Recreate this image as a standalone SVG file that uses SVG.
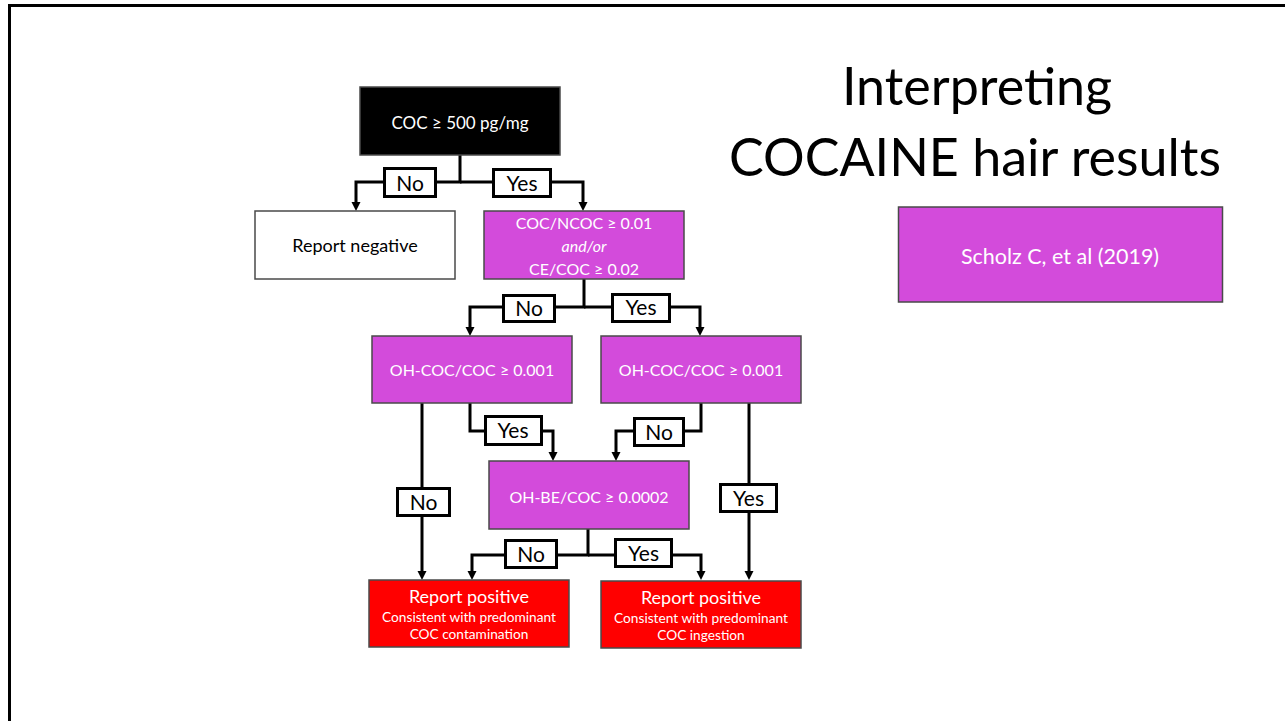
<svg xmlns="http://www.w3.org/2000/svg" width="1285" height="721" viewBox="0 0 1285 721">
  <style>
    text { font-family: Lato, "Liberation Sans", "DejaVu Sans", sans-serif; text-anchor: middle; }
    .node { stroke: #4a4a4a; stroke-width: 1.5; }
    .dark { fill: #000000; }
    .plain { fill: #ffffff; }
    .test { fill: #d34bdb; }
    .result { fill: #ff0000; }
    .wt { fill: #ffffff; font-size: 16px; }
    .bt { fill: #000000; font-size: 18px; }
    .head { fill: #ffffff; font-size: 18px; }
    .sub { fill: #ffffff; font-size: 13.7px; }
    .conn { fill: none; stroke: #000000; stroke-width: 3; }
    .tag rect { fill: #ffffff; stroke: #000000; stroke-width: 3; }
    .tag text { fill: #000000; font-size: 21px; }
    .title { fill: #000000; font-size: 52px; }
  </style>
  <defs>
    <marker id="arrow" markerUnits="userSpaceOnUse" markerWidth="10" markerHeight="10" viewBox="0 -5 10 10" refX="0" refY="0" orient="auto">
      <path d="M0,-4.5 L9,0 L0,4.5 z" fill="#000000"/>
    </marker>
  </defs>

  <rect width="1285" height="721" fill="#ffffff"/>
  <!-- slide frame -->
  <path d="M9.5 721 V5.5 H1285" fill="none" stroke="#000000" stroke-width="3"/>

  <!-- title -->
  <g id="title">
    <text class="title" x="977" y="105">Interpreting</text>
    <text class="title" x="975" y="176">COCAINE hair results</text>
  </g>

  <g id="reference">
    <rect class="node test" x="898.5" y="207" width="324" height="95"/>
    <text class="wt" x="1060" y="264" style="font-size:21.5px">Scholz C, et al (2019)</text>
  </g>

  <!-- connectors -->
  <g id="connectors">
    <path class="conn" d="M460 155 V182 H356 V202" marker-end="url(#arrow)"/>
    <path class="conn" d="M460 182 H583 V202" marker-end="url(#arrow)"/>
    <path class="conn" d="M584 279 V307 H470 V327" marker-end="url(#arrow)"/>
    <path class="conn" d="M584 307 H700 V327" marker-end="url(#arrow)"/>
    <path class="conn" d="M422 403 V571" marker-end="url(#arrow)"/>
    <path class="conn" d="M470 403 V431 H553 V452" marker-end="url(#arrow)"/>
    <path class="conn" d="M701 403 V431 H616 V452" marker-end="url(#arrow)"/>
    <path class="conn" d="M749 403 V571" marker-end="url(#arrow)"/>
    <path class="conn" d="M588 529 V555 H472 V571" marker-end="url(#arrow)"/>
    <path class="conn" d="M588 555 H701 V571" marker-end="url(#arrow)"/>

    <g class="tag"><rect x="384.5" y="168.5" width="51" height="28"/><text x="410" y="191">No</text></g>
    <g class="tag"><rect x="493.5" y="169.5" width="57" height="27"/><text x="522" y="191">Yes</text></g>
    <g class="tag"><rect x="503.5" y="295.5" width="51" height="26"/><text x="529" y="316">No</text></g>
    <g class="tag"><rect x="612.5" y="294.5" width="57" height="27"/><text x="641" y="315">Yes</text></g>
    <g class="tag"><rect x="485.5" y="416.5" width="56" height="28"/><text x="513" y="438">Yes</text></g>
    <g class="tag"><rect x="634.5" y="418.5" width="49" height="27"/><text x="659" y="440">No</text></g>
    <g class="tag"><rect x="397.5" y="488.5" width="52" height="27"/><text x="423.5" y="510">No</text></g>
    <g class="tag"><rect x="720.5" y="484.5" width="56" height="27"/><text x="748.5" y="506">Yes</text></g>
    <g class="tag"><rect x="505.5" y="540.5" width="51" height="27"/><text x="531" y="562">No</text></g>
    <g class="tag"><rect x="615.5" y="539.5" width="56" height="27"/><text x="643.5" y="561">Yes</text></g>
  </g>

  <!-- decision nodes -->
  <g id="coc-threshold">
    <rect class="node dark" x="360" y="87" width="200" height="68"/>
    <text class="wt" x="460" y="129" style="font-size:17px">COC ≥ 500 pg/mg</text>
  </g>

  <g id="report-negative">
    <rect class="node plain" x="255" y="211" width="200" height="68"/>
    <text class="bt" x="355" y="252">Report negative</text>
  </g>

  <g id="ratio-test">
    <rect class="node test" x="484" y="211" width="200" height="68"/>
    <text class="wt" x="584" y="229">COC/NCOC ≥ 0.01</text>
    <text class="wt" x="584" y="252" font-style="italic">and/or</text>
    <text class="wt" x="584" y="275">CE/COC ≥ 0.02</text>
  </g>

  <g id="ohcoc-left">
    <rect class="node test" x="372" y="336" width="200" height="67"/>
    <text class="wt" x="472" y="376">OH-COC/COC ≥ 0.001</text>
  </g>

  <g id="ohcoc-right">
    <rect class="node test" x="601" y="336" width="200" height="67"/>
    <text class="wt" x="701" y="376">OH-COC/COC ≥ 0.001</text>
  </g>

  <g id="ohbe-test">
    <rect class="node test" x="489" y="461" width="200" height="68"/>
    <text class="wt" x="589" y="503">OH-BE/COC ≥ 0.0002</text>
  </g>

  <!-- outcome nodes -->
  <g id="positive-contamination">
    <rect class="node result" x="369" y="580" width="200" height="67"/>
    <text class="head" x="469" y="603">Report positive</text>
    <text class="sub" x="469" y="622">Consistent with predominant</text>
    <text class="sub" x="469" y="638.5">COC contamination</text>
  </g>

  <g id="positive-ingestion">
    <rect class="node result" x="601" y="581" width="200" height="67"/>
    <text class="head" x="701" y="604">Report positive</text>
    <text class="sub" x="701" y="623">Consistent with predominant</text>
    <text class="sub" x="701" y="639.5">COC ingestion</text>
  </g>
</svg>
